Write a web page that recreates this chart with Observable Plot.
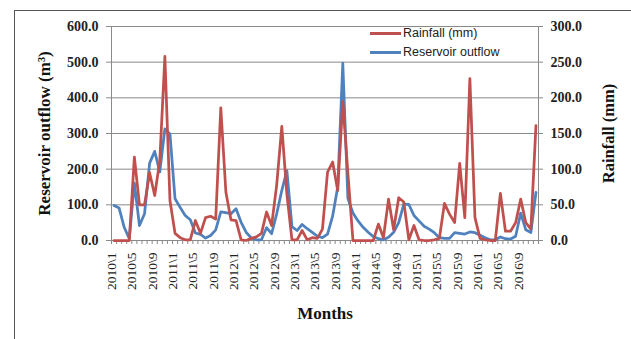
<!DOCTYPE html>
<html><head><meta charset="utf-8">
<script src="https://cdn.jsdelivr.net/npm/d3@7"></script>
<script src="https://cdn.jsdelivr.net/npm/@observablehq/plot@0.6"></script>
<style>
html,body{margin:0;padding:0;background:#fff;overflow:hidden;}
#wrap{position:relative;width:631px;height:339px;}
#chart svg{display:block;}
#frame{position:absolute;left:14px;top:10px;width:700px;height:400px;border-left:1px solid #555;border-top:1px solid #555;pointer-events:none;}
#legend{position:absolute;left:370px;top:24px;font-family:"Liberation Sans",Arial,sans-serif;font-size:12.5px;color:#222;line-height:19px;}
#legend .item{display:flex;align-items:center;height:19px;}
#legend .sw{display:inline-block;width:31px;height:3px;margin-right:2px;}
</style></head>
<body><div id="wrap"><div id="chart"></div><div id="legend"></div><div id="frame"></div></div>
<script>
const monthTickLabels = ["2010\\1","2010\\5","2010\\9","2011\\1","2011\\5","2011\\9","2012\\1","2012\\5","2012\\9","2013\\1","2013\\5","2013\\9","2014\\1","2014\\5","2014\\9","2015\\1","2015\\5","2015\\9","2016\\1","2016\\5","2016\\9"];
// Rainfall (mm), monthly Jan 2010 - Dec 2016 (right axis)
const rainfall = [0,0,0,0,117,50,50,95,63,112,258,56,10,4,1,1,28,10,32,34,30,186,68,29,28,1,0,3,5,10,40,21,78,160,65,1,1,14,1,4,3,16,96,110,70,195,95,0,0,0,0,0,23,4,58,15,60,54,1,21,1,0,0,1,3,52,37,25,108,32,227,32,3,1,0,0,66,13,13,25,58,25,16,161];
// Reservoir outflow (m3), monthly Jan 2010 - Dec 2016 (left axis)
const outflow = [98,91,37,5,161,42,75,217,250,192,313,299,117,93,70,58,21,17,7,14,30,80,78,75,89,51,23,7,2,2,36,19,75,140,196,39,28,45,33,23,12,8,18,68,150,497,118,77,55,37,23,11,5,2,9,23,50,102,101,70,55,40,32,22,8,6,6,22,20,18,24,22,15,8,2,2,10,5,4,12,77,30,22,135];
const leftTicks = [0,100,200,300,400,500,600];
const rightTicks = [0,50,100,150,200,250,300];
const seriesNames = ["Rainfall (mm)","Reservoir outflow"];
const seriesColors = ["#C0504D","#4F81BD"];
const leftTitle = "Reservoir outflow (m³)";
const rightTitle = "Rainfall (mm)";
const xTitle = "Months";

const n = outflow.length;
const boundaries = d3.range(n + 1).map(i => i - 0.5);
const serif = "'Liberation Serif','Times New Roman',serif";

const chart = Plot.plot({
  width: 631, height: 339,
  marginLeft: 111, marginRight: 93, marginTop: 26, marginBottom: 99,
  style: {background: "transparent", fontFamily: serif},
  x: {domain: [-0.5, n - 0.5], axis: null},
  y: {domain: [0, 600], axis: null},
  marks: [
    Plot.ruleY(leftTicks, {y: d => d, stroke: "#8a8a8a", strokeWidth: 1, insetLeft: -5, insetRight: -5}),
    Plot.ruleX([boundaries[0], boundaries[n]], {x: d => d, stroke: "#8a8a8a", strokeWidth: 1}),
    Plot.ruleX(boundaries, {x: d => d, stroke: "#8a8a8a", strokeWidth: 1, insetTop: 214, insetBottom: -4}),
    Plot.lineY(outflow, {x: (d, i) => i, y: d => d, stroke: seriesColors[1], strokeWidth: 2.75}),
    Plot.lineY(rainfall, {x: (d, i) => i, y: d => d * 2, stroke: seriesColors[0], strokeWidth: 2.75}),
    Plot.text(leftTicks, {y: d => d, text: d => d.toFixed(1), frameAnchor: "left", textAnchor: "end", dx: -13, fontWeight: "bold", fontSize: 14, fill: "#222"}),
    Plot.text(rightTicks, {y: d => d * 2, text: d => d.toFixed(1), frameAnchor: "right", textAnchor: "start", dx: 12, fontWeight: "bold", fontSize: 14, fill: "#222"}),
    Plot.text(monthTickLabels, {x: (d, i) => i * 4, text: d => d, frameAnchor: "bottom", rotate: -90, textAnchor: "end", dy: 12, dx: 2, fontSize: 13.5, fill: "#222"}),
    Plot.text([xTitle], {text: d => d, frameAnchor: "bottom", textAnchor: "middle", dy: 78, fontWeight: "bold", fontSize: 17, fill: "#111"}),
    Plot.text([leftTitle], {text: d => d, frameAnchor: "left", textAnchor: "middle", rotate: -90, dx: -67, fontWeight: "bold", fontSize: 17, fill: "#111"}),
    Plot.text([rightTitle], {text: d => d, frameAnchor: "right", textAnchor: "middle", rotate: -90, dx: 70, fontWeight: "bold", fontSize: 16.5, fill: "#111"})
  ]
});
document.getElementById("chart").appendChild(chart);

const legend = document.getElementById("legend");
seriesNames.forEach((name, k) => {
  const item = document.createElement("div");
  item.className = "item";
  const sw = document.createElement("span");
  sw.className = "sw";
  sw.style.background = seriesColors[k];
  const t = document.createElement("span");
  t.textContent = name;
  item.appendChild(sw); item.appendChild(t);
  legend.appendChild(item);
});
</script>
</body></html>
